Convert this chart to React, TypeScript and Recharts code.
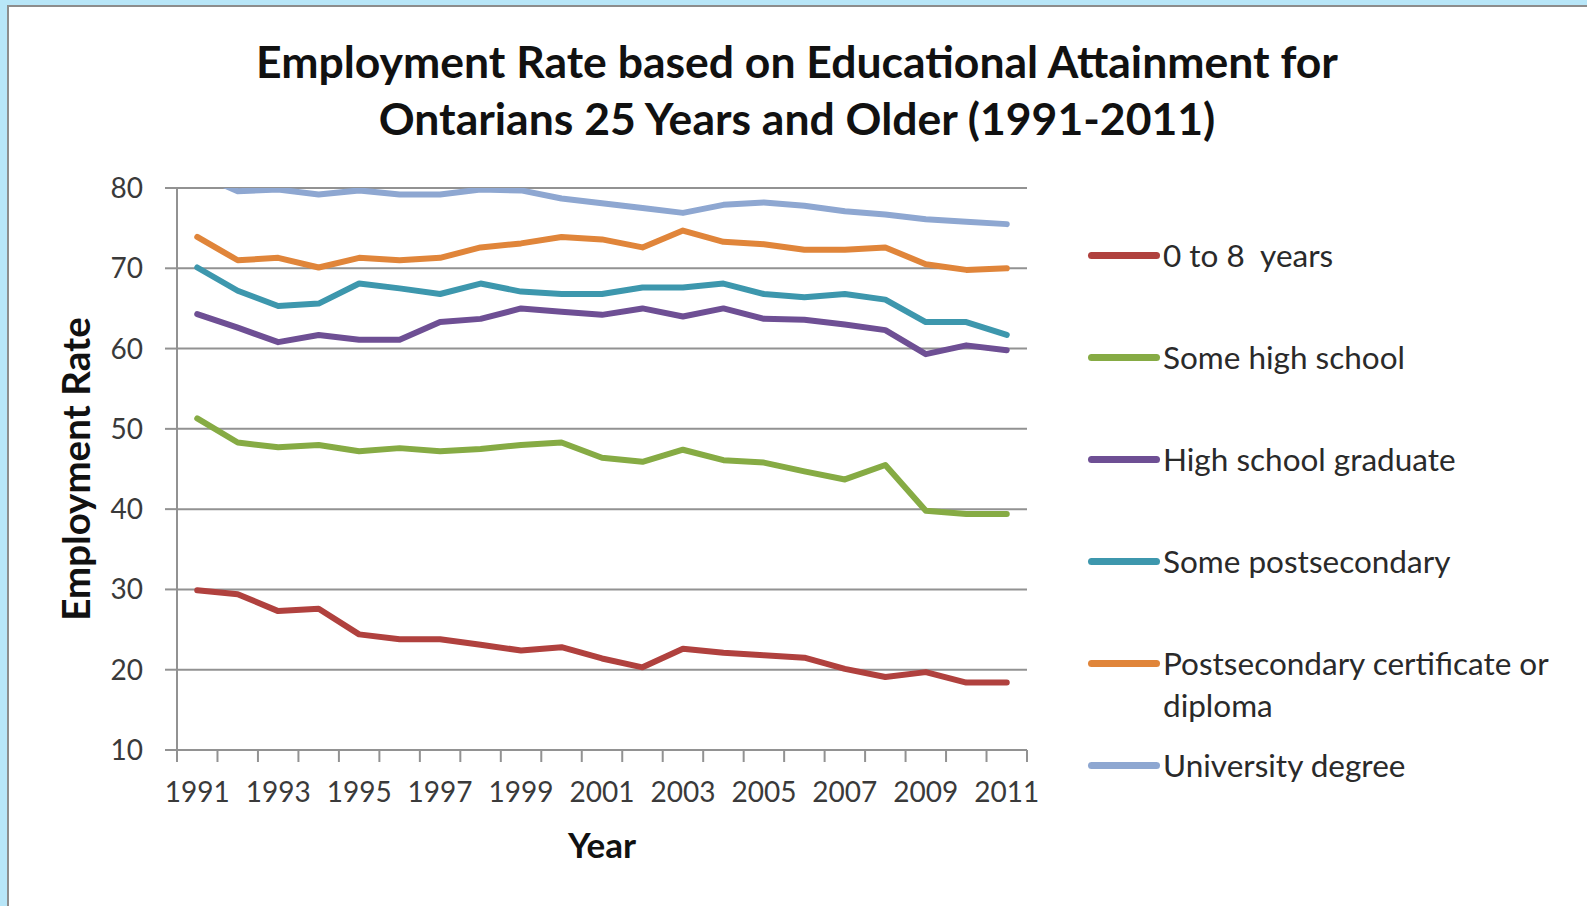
import React from "react"
import {
  LineChart,
  Line,
  XAxis,
  YAxis,
  CartesianGrid,
} from "recharts"

const YEARS = [
  1991, 1992, 1993, 1994, 1995, 1996, 1997, 1998, 1999, 2000, 2001, 2002,
  2003, 2004, 2005, 2006, 2007, 2008, 2009, 2010, 2011,
]
const YEAR_LABELS = [1991, 1993, 1995, 1997, 1999, 2001, 2003, 2005, 2007, 2009, 2011]
const RATE_TICKS = [10, 20, 30, 40, 50, 60, 70, 80]

const ZERO_TO_EIGHT = [
  29.9, 29.4, 27.3, 27.6, 24.4, 23.8, 23.8, 23.1, 22.4, 22.8, 21.4, 20.3, 22.6,
  22.1, 21.8, 21.5, 20.1, 19.1, 19.7, 18.4, 18.4,
]
const SOME_HIGH_SCHOOL = [
  51.3, 48.3, 47.7, 48.0, 47.2, 47.6, 47.2, 47.5, 48.0, 48.3, 46.4, 45.9, 47.4,
  46.1, 45.8, 44.7, 43.7, 45.5, 39.8, 39.4, 39.4,
]
const HIGH_SCHOOL_GRAD = [
  64.3, 62.6, 60.8, 61.7, 61.1, 61.1, 63.3, 63.7, 65.0, 64.6, 64.2, 65.0, 64.0,
  65.0, 63.7, 63.6, 63.0, 62.3, 59.3, 60.4, 59.8,
]
const SOME_POSTSECONDARY = [
  70.1, 67.2, 65.3, 65.6, 68.1, 67.5, 66.8, 68.1, 67.1, 66.8, 66.8, 67.6, 67.6,
  68.1, 66.8, 66.4, 66.8, 66.1, 63.3, 63.3, 61.7,
]
const POSTSECONDARY_CERT = [
  73.9, 71.0, 71.3, 70.1, 71.3, 71.0, 71.3, 72.6, 73.1, 73.9, 73.6, 72.6, 74.7,
  73.3, 73.0, 72.3, 72.3, 72.6, 70.5, 69.8, 70.0,
]
const UNIVERSITY = [
  81.8, 79.6, 79.8, 79.2, 79.7, 79.2, 79.2, 79.8, 79.7, 78.7, 78.1, 77.5, 76.9,
  77.9, 78.2, 77.8, 77.1, 76.7, 76.1, 75.8, 75.5,
]

const SERIES = [
  { key: "zero", name: "0 to 8  years", values: ZERO_TO_EIGHT, color: "#b0413e" },
  { key: "someHs", name: "Some high school", values: SOME_HIGH_SCHOOL, color: "#86ab44" },
  { key: "hsGrad", name: "High school graduate", values: HIGH_SCHOOL_GRAD, color: "#6e4f94" },
  { key: "somePs", name: "Some postsecondary", values: SOME_POSTSECONDARY, color: "#3d97ad" },
  { key: "psCert", name: "Postsecondary certificate or\ndiploma", values: POSTSECONDARY_CERT, color: "#e0853a" },
  { key: "univ", name: "University degree", values: UNIVERSITY, color: "#8ea7d1" },
]

const data = YEARS.map((year, i) => {
  const row: Record<string, number> = { year }
  SERIES.forEach((s) => {
    row[s.key] = s.values[i]
  })
  return row
})

// category edges for the small tick marks between years
const yearEdges = [YEARS[0] - 0.5, ...YEARS.map((y) => y + 0.5)]
const xDomain = [YEARS[0] - 0.5, YEARS[YEARS.length - 1] + 0.5]

const FONT = "Lato, 'Open Sans', sans-serif"
const GRID = "#929292"
const TEXT = "#3a3a3a"

const NoLabel = () => <g />

const App: React.FC = () => {
  return (
    <div
      style={{
        position: "absolute",
        left: 0,
        top: 0,
        width: 1587,
        height: 906,
        background: "#b8e6f8",
        overflow: "hidden",
        fontFamily: FONT,
      }}
    >
      {/* white chart card */}
      <div
        style={{
          position: "absolute",
          left: 7,
          top: 5,
          width: 1600,
          height: 920,
          background: "#ffffff",
          border: "2px solid #8d8d8d",
        }}
      />

      {/* title */}
      <div
        style={{
          position: "absolute",
          left: 0,
          top: 32,
          width: 1594,
          textAlign: "center",
          fontSize: 44.5,
          lineHeight: "57px",
          fontWeight: 700,
          color: "#111",
        }}
      >
        Employment Rate based on Educational Attainment for
        <br />
        Ontarians 25 Years and Older (1991-2011)
      </div>

      <div style={{ position: "absolute", left: 0, top: 0 }}>
        <LineChart
          width={1587}
          height={906}
          data={data}
          margin={{ top: 188, right: 560, left: 20, bottom: 33 }}
        >
          <CartesianGrid
            xAxisId="main"
            vertical={false}
            stroke={GRID}
            strokeWidth={2}
          />
          <XAxis
            xAxisId="edges"
            type="number"
            dataKey="year"
            domain={xDomain}
            ticks={yearEdges}
            interval={0}
            allowDataOverflow
            height={1}
            tick={NoLabel}
            tickSize={12}
            axisLine={{ stroke: GRID, strokeWidth: 2 }}
            tickLine={{ stroke: GRID, strokeWidth: 2 }}
          />
          <XAxis
            xAxisId="main"
            type="number"
            dataKey="year"
            domain={xDomain}
            ticks={YEAR_LABELS}
            interval={0}
            allowDataOverflow
            height={122}
            axisLine={false}
            tickLine={false}
            tickSize={0}
            tickMargin={31}
            tick={{ fill: TEXT, fontSize: 28, fontFamily: FONT }}
            label={{
              value: "Year",
              position: "insideBottom",
              offset: 15,
              fill: "#111",
              fontSize: 35,
              fontWeight: 700,
              fontFamily: FONT,
            }}
          />
          <YAxis
            domain={[10, 80]}
            ticks={RATE_TICKS}
            interval={0}
            allowDataOverflow
            width={157}
            tickSize={12}
            tickMargin={22}
            axisLine={{ stroke: GRID, strokeWidth: 2 }}
            tickLine={{ stroke: GRID, strokeWidth: 2 }}
            tick={{ fill: TEXT, fontSize: 28, fontFamily: FONT }}
            label={{
              value: "Employment Rate",
              angle: -90,
              position: "insideLeft",
              offset: 56,
              fill: "#111",
              fontSize: 38.5,
              fontWeight: 700,
              fontFamily: FONT,
              style: { textAnchor: "middle" },
            }}
          />
          {SERIES.map((s) => (
            <Line
              key={s.key}
              xAxisId="main"
              type="linear"
              dataKey={s.key}
              name={s.name}
              stroke={s.color}
              strokeWidth={6}
              strokeLinejoin="round"
              strokeLinecap="round"
              dot={false}
              activeDot={false}
              isAnimationActive={false}
            />
          ))}
        </LineChart>
      </div>

      {/* legend */}
      {SERIES.map((s, i) => (
        <div
          key={s.key}
          style={{
            position: "absolute",
            left: 1088,
            top: 255 + 102 * i - 21,
            display: "flex",
            alignItems: "flex-start",
          }}
        >
          <div
            style={{
              width: 72,
              height: 7,
              marginTop: 17.5,
              borderRadius: 4,
              background: s.color,
            }}
          />
          <div
            style={{
              marginLeft: 3,
              fontSize: 31.5,
              lineHeight: "42px",
              color: "#2a2a2a",
              whiteSpace: "pre",
            }}
          >
            {s.name}
          </div>
        </div>
      ))}
    </div>
  )
}

export default App
